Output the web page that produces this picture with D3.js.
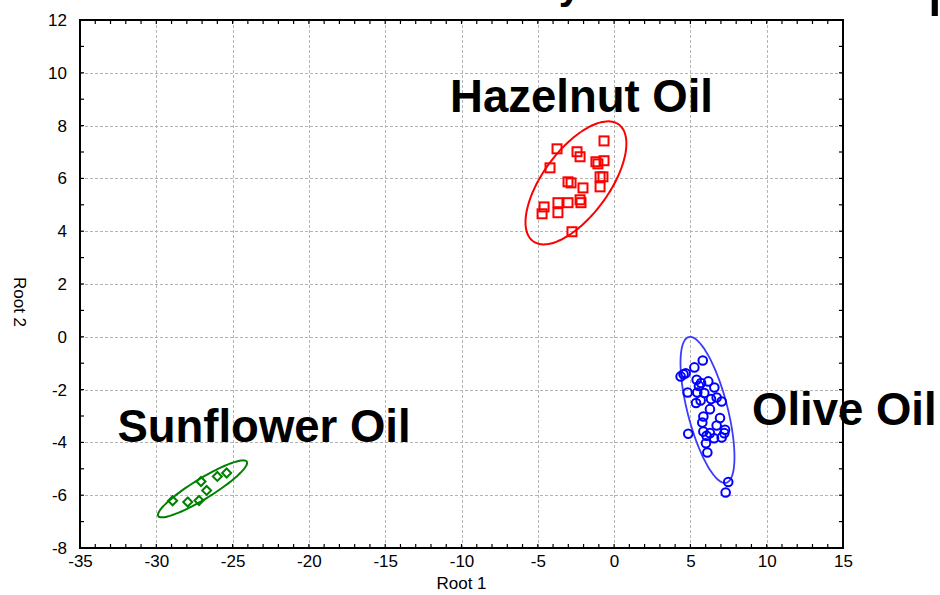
<!DOCTYPE html>
<html>
<head>
<meta charset="utf-8">
<script src="https://cdn.jsdelivr.net/npm/d3@7"></script>
<style>
  html, body { margin: 0; padding: 0; background: #fff; }
  svg { display: block; }
</style>
</head>
<body>
<svg id="chart" width="940" height="595"></svg>
<script>
// Canonical scores (Root 1, Root 2) for each oil group
const hazelnutRoot1 = [-0.66, -3.74, -2.43, -2.23, -0.66, -1.19, -1.06, -4.20, -0.92, -0.73, -0.92, -3.02, -2.82, -2.04, -2.23, -2.17, -3.02, -3.68, -4.59, -4.72, -3.68, -2.76];
const hazelnutRoot2 = [7.42, 7.12, 7.01, 6.82, 6.67, 6.63, 6.55, 6.40, 6.06, 6.06, 5.68, 5.87, 5.83, 5.64, 5.19, 5.08, 5.08, 5.08, 4.92, 4.66, 4.70, 3.98];

const oliveRoot1 = [5.81, 5.26, 4.69, 4.36, 4.55, 5.41, 6.17, 5.70, 5.56, 6.57, 4.82, 5.45, 5.91, 6.72, 6.35, 7.05, 5.67, 5.37, 6.28, 5.85, 6.94, 5.78, 6.72, 7.27, 5.85, 4.86, 6.28, 7.22, 6.06, 7.05, 6.55, 6.02, 6.11, 7.48, 7.31];
const oliveRoot2 = [-0.90, -1.16, -1.38, -1.50, -1.42, -1.63, -1.69, -1.75, -1.86, -1.92, -2.11, -2.11, -2.13, -2.30, -2.36, -2.45, -2.41, -2.51, -2.74, -3.02, -3.08, -3.25, -3.36, -3.52, -3.59, -3.67, -3.65, -3.65, -3.75, -3.81, -3.84, -4.03, -4.38, -5.50, -5.90];

const sunflowerRoot1 = [-25.39, -26.00, -27.07, -26.70, -27.94, -27.20, -28.93];
const sunflowerRoot2 = [-5.16, -5.29, -5.48, -5.82, -6.26, -6.20, -6.21];

// Group ellipses: centre, then the two semi-axis vectors (Root 1, Root 2 units)
const hazelnutEllipse = [-2.50, 5.83, 2.81, 2.21, 1.74, -0.74];
const oliveEllipse = [6.12, -2.77, -1.23, 2.76, 1.27, 0.19];
const sunflowerEllipse = [-26.97, -5.76, 2.90, 1.03, 0.344, -0.322];

const groupNames = ["Hazelnut Oil", "Olive Oil", "Sunflower Oil"];

// Axis ticks
const xTicks = [-35, -30, -25, -20, -15, -10, -5, 0, 5, 10, 15];
const yTicks = [-8, -6, -4, -2, 0, 2, 4, 6, 8, 10, 12];

const svg = d3.select("#chart");
const x = d3.scaleLinear().domain([-35, 15]).range([80, 843]);
const y = d3.scaleLinear().domain([-8, 12]).range([548, 20]);

const tickFont = "'Liberation Sans', Arial, sans-serif";

// Title (runs above the top edge of the page)
const title = svg.append("text")
  .attr("font-family", tickFont)
  .attr("fill", "#000");
title.append("tspan").attr("x", 581).attr("y", -1).attr("font-size", 40)
  .attr("font-weight", "bold")
  .attr("text-anchor", "end").text("Canonical Scores by");
title.append("tspan").attr("x", 927).attr("y", 0.5).attr("font-size", 70)
  .attr("text-anchor", "start").text("plot");

// Dashed grid
const grid = svg.append("g").attr("stroke", "#b4b4b4").attr("stroke-width", 1)
  .attr("stroke-dasharray", "3,2");
grid.selectAll("line.v").data(xTicks.slice(1, -1)).join("line")
  .attr("x1", d => Math.round(x(d)) + 0.5).attr("x2", d => Math.round(x(d)) + 0.5)
  .attr("y1", y(12)).attr("y2", y(-8));
grid.selectAll("line.h").data(yTicks.slice(1, -1)).join("line")
  .attr("y1", d => Math.round(y(d)) + 0.5).attr("y2", d => Math.round(y(d)) + 0.5)
  .attr("x1", x(-35)).attr("x2", x(15));

// Axes with inward minor ticks on every side
const xMinor = d3.range(-35, 15.01, 1);
const yMinor = d3.range(-8, 12.01, 1);
const axisBottom = d3.axisBottom(x).tickValues(xTicks).tickSize(0).tickPadding(7)
  .tickFormat(d => d);
const axisLeft = d3.axisLeft(y).tickValues(yTicks).tickSize(0).tickPadding(13)
  .tickFormat(d => d);

const gx = svg.append("g").attr("transform", `translate(0,${y(-8)})`).call(axisBottom);
const gy = svg.append("g").attr("transform", `translate(${x(-35)},0)`).call(axisLeft);
[gx, gy].forEach(g => {
  g.select(".domain").remove();
  g.selectAll("text").attr("font-family", tickFont).attr("font-size", 17).attr("fill", "#000");
});
gx.selectAll("text").attr("dy", "0.71em");

const ticks = svg.append("g").attr("stroke", "#000").attr("stroke-width", 1.2);
ticks.selectAll("line.b").data(xMinor).join("line")
  .attr("x1", d => x(d)).attr("x2", d => x(d)).attr("y1", y(-8)).attr("y2", y(-8) - 4);
ticks.selectAll("line.t").data(xMinor).join("line")
  .attr("x1", d => x(d)).attr("x2", d => x(d)).attr("y1", y(12)).attr("y2", y(12) + 4);
ticks.selectAll("line.l").data(yMinor).join("line")
  .attr("y1", d => y(d)).attr("y2", d => y(d)).attr("x1", x(-35)).attr("x2", x(-35) + 4);
ticks.selectAll("line.r").data(yMinor).join("line")
  .attr("y1", d => y(d)).attr("y2", d => y(d)).attr("x1", x(15)).attr("x2", x(15) - 4);

// Frame
svg.append("rect")
  .attr("x", x(-35)).attr("y", y(12))
  .attr("width", x(15) - x(-35)).attr("height", y(-8) - y(12))
  .attr("fill", "none").attr("stroke", "#000").attr("stroke-width", 2);

// Axis titles
svg.append("text").attr("x", (x(-35) + x(15)) / 2).attr("y", 589)
  .attr("text-anchor", "middle").attr("font-family", tickFont).attr("font-size", 17)
  .text("Root 1");
svg.append("text").attr("transform", `translate(14,${(y(-8) + y(12)) / 2 + 18}) rotate(90)`)
  .attr("text-anchor", "middle").attr("font-family", tickFont).attr("font-size", 17)
  .text("Root 2");

// Ellipses, traced through the scales
function ellipsePath(e) {
  const pts = d3.range(0, 361, 3).map(a => {
    const t = a * Math.PI / 180;
    return [x(e[0] + e[2] * Math.cos(t) + e[4] * Math.sin(t)),
            y(e[1] + e[3] * Math.cos(t) + e[5] * Math.sin(t))];
  });
  return d3.line().curve(d3.curveCardinalClosed)(pts.slice(0, -1));
}
svg.append("path").attr("d", ellipsePath(hazelnutEllipse))
  .attr("fill", "none").attr("stroke", "#ff0000").attr("stroke-width", 2);
svg.append("path").attr("d", ellipsePath(oliveEllipse))
  .attr("fill", "none").attr("stroke", "#3c3cff").attr("stroke-width", 1.8);
svg.append("path").attr("d", ellipsePath(sunflowerEllipse))
  .attr("fill", "none").attr("stroke", "#008000").attr("stroke-width", 2);

// Markers
const hz = d3.zip(hazelnutRoot1, hazelnutRoot2);
svg.append("g").selectAll("rect").data(hz).join("rect")
  .attr("x", d => x(d[0]) - 4.5).attr("y", d => y(d[1]) - 4.5)
  .attr("width", 9).attr("height", 9)
  .attr("fill", "none").attr("stroke", "#ff0000").attr("stroke-width", 2);

const ol = d3.zip(oliveRoot1, oliveRoot2);
svg.append("g").selectAll("circle").data(ol).join("circle")
  .attr("cx", d => x(d[0])).attr("cy", d => y(d[1])).attr("r", 4.3)
  .attr("fill", "none").attr("stroke", "#0000ff").attr("stroke-width", 2);

const sf = d3.zip(sunflowerRoot1, sunflowerRoot2);
svg.append("g").selectAll("path").data(sf).join("path")
  .attr("d", d => `M${x(d[0])},${y(d[1]) - 4.5}l4.5,4.5l-4.5,4.5l-4.5,-4.5z`)
  .attr("fill", "none").attr("stroke", "#008000").attr("stroke-width", 2);

// Group labels
const labelAnchors = [[-10.75, 8.52], [9.04, -3.33], [-32.55, -3.98]];
svg.append("g").selectAll("text").data(groupNames).join("text")
  .attr("x", (d, i) => x(labelAnchors[i][0]))
  .attr("y", (d, i) => y(labelAnchors[i][1]))
  .attr("font-family", tickFont).attr("font-weight", "bold").attr("font-size", 45.5)
  .attr("fill", "#000")
  .text(d => d);
</script>
</body>
</html>
